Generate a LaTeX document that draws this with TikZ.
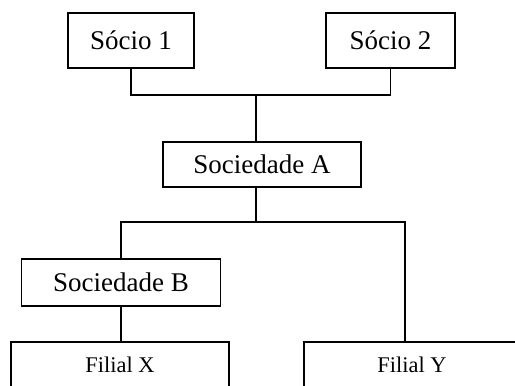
\documentclass[tikz,border=0pt]{standalone}
\usepackage{fontspec}
\setmainfont{Liberation Serif}
\usepackage{tikz}
\usetikzlibrary{positioning,calc}
\tikzset{
  obj/.style={draw=black,line width=1.4pt,inner sep=0pt,font=\fontsize{27}{30}\selectfont},
  filial/.style={obj,minimum height=46pt,font=\fontsize{22.4}{26}\selectfont},
  lnk/.style={line width=1.4pt},
}

\begin{document}
\begin{tikzpicture}[x=1pt,y=-1pt]
  \useasboundingbox (0,0) rectangle (515,386);
  \clip (0,0) rectangle (515,386);
  % socios
  \node[obj,minimum width=126pt,minimum height=55pt] (S1) at (131,40.5) {Sócio 1};
  \node[obj,minimum width=129pt,minimum height=55pt] (S2) at (390.5,40.5) {Sócio 2};
  % sociedades
  \node[obj,minimum width=198pt,minimum height=45pt] (A) at (262,164.5) {Sociedade A};
  \node[obj,minimum width=199pt,minimum height=47pt] (B) at (121,282.5) {Sociedade B};
  % filiais
  \node[filial,minimum width=218pt] (X) at (120,365) {Filial X};
  \node[filial,minimum width=216pt] (Y) at (412,365) {Filial Y};
  % junctions
  \coordinate (j1) at (256,95);
  \coordinate (j2) at (256,222);
  \coordinate (j3) at (405,222);
  \draw[lnk] (S1.south) |- (j1) -| (S2.south);
  \draw[lnk] (j1) -- (j1 |- A.north);
  \draw[lnk] (j1 |- A.south) -- (j2);
  \draw[lnk] (B.north) |- (j3) -- (j3 |- Y.north);
  \draw[lnk] (B.south) -- (B.south |- X.north);
\end{tikzpicture}
\end{document}
